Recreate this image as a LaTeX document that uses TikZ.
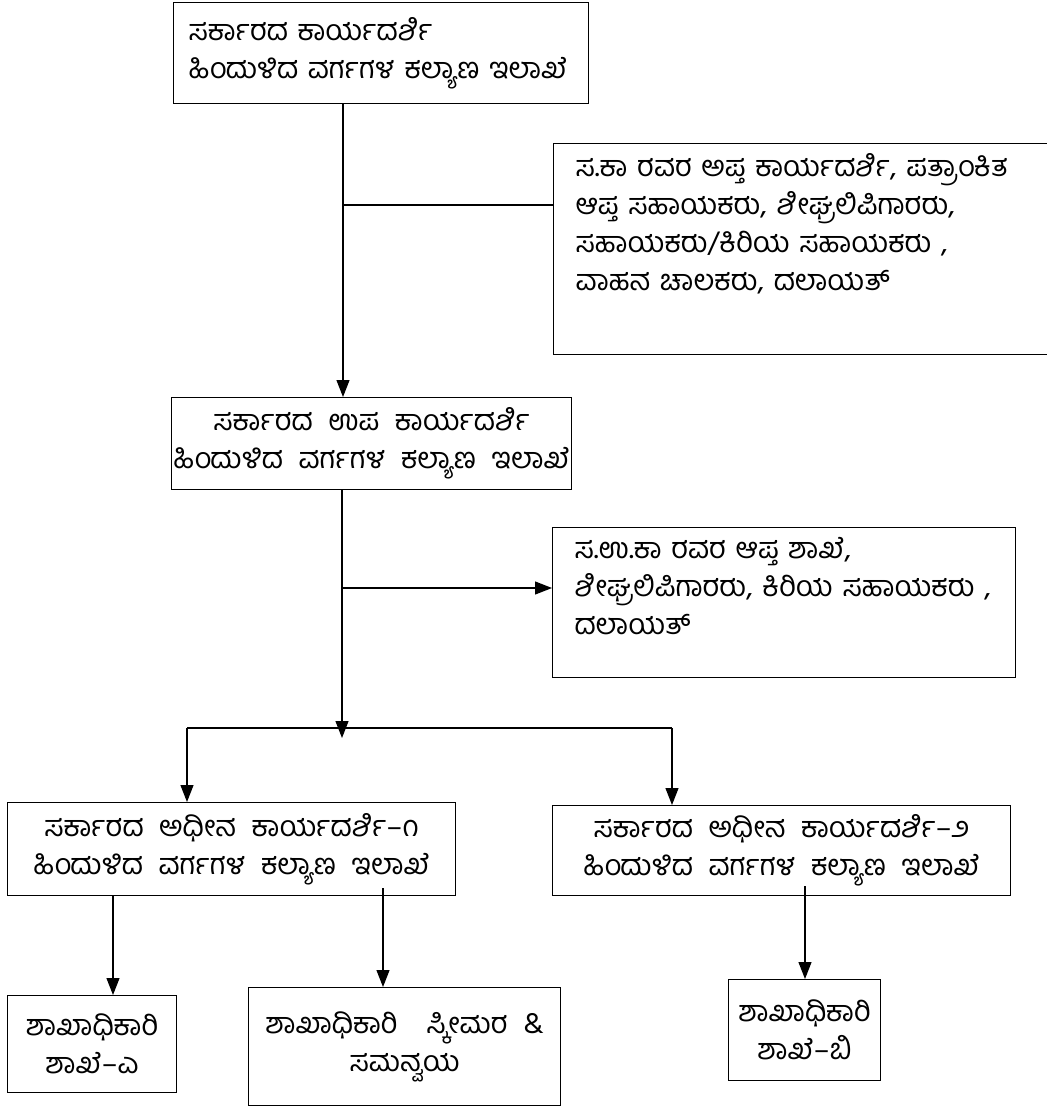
\documentclass[tikz,border=0pt]{standalone}
\usepackage{fontspec}
\newfontfamily\kannada[Script=Kannada, WordSpace=2.2]{Hind Mysuru}
\usetikzlibrary{arrows.meta}

\begin{document}
\begin{tikzpicture}[x=1pt, y=-1pt,
  box/.style={draw, line width=1.2pt, anchor=north west, inner sep=0pt,
    font=\kannada\fontsize{29}{38}\selectfont},
  lbox/.style={box, align=left, inner xsep=22pt},
  cbox/.style={box, align=center},
  flow/.style={-{Triangle[width=13pt,length=17pt]}, line width=1.2pt},
  link/.style={line width=1.2pt}]

\useasboundingbox (0,0) rectangle (1047,1106);

% Position the boxes at their places on the page
\node[lbox, inner xsep=15pt, text width=385, minimum height=101] (secy) at (173,2)
  {ಸರ್ಕಾರದ ಕಾರ್ಯದರ್ಶಿ\\ಹಿಂದುಳಿದ ವರ್ಗಗಳ ಕಲ್ಯಾಣ ಇಲಾಖೆ};
\node[lbox, text width=450, minimum height=211] (pvtA) at (553,143)
  {ಸ.ಕಾ ರವರ ಅಪ್ತ ಕಾರ್ಯದರ್ಶಿ, ಪತ್ರಾಂಕಿತ\\ಆಪ್ತ ಸಹಾಯಕರು, ಶೀಘ್ರಲಿಪಿಗಾರರು,\\ಸಹಾಯಕರು/ಕಿರಿಯ ಸಹಾಯಕರು ,\\ವಾಹನ ಚಾಲಕರು, ದಲಾಯತ್\\[16pt]\mbox{}};
\node[cbox, minimum width=400, minimum height=92] (dysecy) at (171,397)
  {ಸರ್ಕಾರದ ಉಪ ಕಾರ್ಯದರ್ಶಿ\\ಹಿಂದುಳಿದ ವರ್ಗಗಳ ಕಲ್ಯಾಣ ಇಲಾಖೆ};
\node[lbox, text width=419, minimum height=150] (pvtB) at (552,527)
  {ಸ.ಉ.ಕಾ ರವರ ಆಪ್ತ ಶಾಖೆ,\\ಶೀಘ್ರಲಿಪಿಗಾರರು, ಕಿರಿಯ ಸಹಾಯಕರು ,\\ದಲಾಯತ್\\[-4pt]\mbox{}};
\node[cbox, minimum width=448, minimum height=93] (usecyA) at (7,802)
  {ಸರ್ಕಾರದ ಅಧೀನ ಕಾರ್ಯದರ್ಶಿ–೧\\ಹಿಂದುಳಿದ ವರ್ಗಗಳ ಕಲ್ಯಾಣ ಇಲಾಖೆ};
\node[cbox, minimum width=458, minimum height=90] (usecyB) at (552,805)
  {ಸರ್ಕಾರದ ಅಧೀನ ಕಾರ್ಯದರ್ಶಿ–೨\\ಹಿಂದುಳಿದ ವರ್ಗಗಳ ಕಲ್ಯಾಣ ಇಲಾಖೆ};
\node[cbox, minimum width=169, minimum height=97] (soA) at (7,995)
  {ಶಾಖಾಧಿಕಾರಿ\\ಶಾಖೆ–ಎ};
\node[cbox, minimum width=312, minimum height=118] (soS) at (248,987)
  {ಶಾಖಾಧಿಕಾರಿ\quad ಸ್ಕೀಮರ \&\\ಸಮನ್ವಯ};
\node[cbox, minimum width=152, minimum height=101] (soB) at (728,979)
  {ಶಾಖಾಧಿಕಾರಿ\\ಶಾಖೆ–ಬಿ};

% Where the lines run
\coordinate (trunkA) at (343,205);
\coordinate (trunkB) at (342,588);
\coordinate (busL) at (187,728);
\coordinate (busR) at (672,728);
\coordinate (legA) at (113,0);
\coordinate (legS) at (383,0);
\coordinate (legB) at (805,0);

% Draw the arrows between the boxes
\draw [flow] (trunkA |- secy.south) -- (trunkA |- dysecy.north);
\draw [link] (trunkA) -- (trunkA -| pvtA.west);
\draw [flow] (trunkB |- dysecy.south) -- ([yshift=-10pt]trunkB |- busL);
\draw [flow] (trunkB) -- (trunkB -| pvtB.west);
\draw [link] (busL) -- (busR);
\draw [flow] (busL) -- (busL |- usecyA.north);
\draw [flow] (busR) -- (busR |- usecyB.north);
\draw [flow] (legA |- usecyA.south) -- (legA |- soA.north);
\draw [flow] ([yshift=8pt]legS |- usecyA.south) -- (legS |- soS.north);
\draw [flow] ([yshift=10pt]legB |- usecyB.south) -- (legB |- soB.north);

\end{tikzpicture}
\end{document}
